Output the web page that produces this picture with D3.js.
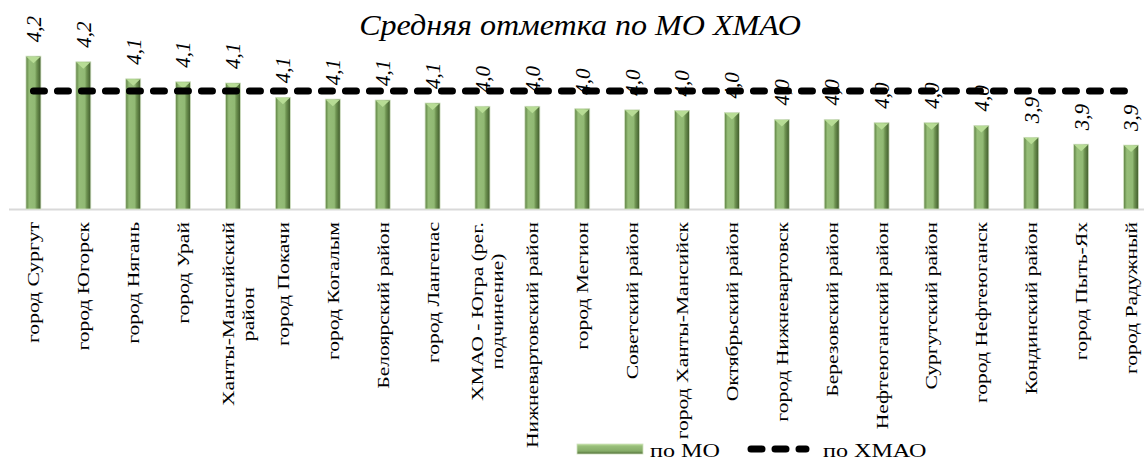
<!DOCTYPE html>
<html>
<head>
<meta charset="utf-8">
<script src="https://cdnjs.cloudflare.com/ajax/libs/d3/7.8.5/d3.min.js"></script>
<style>
  html, body { margin: 0; padding: 0; background: #ffffff; }
  svg { display: block; }
  .serif { font-family: 'Liberation Serif', 'Times New Roman', serif; }
</style>
</head>
<body>
<svg id="chart" width="1144" height="461"></svg>
<script>
const categories = [
  "город Сургут", "город Югорск", "город Нягань", "город Урай",
  "Ханты-Мансийский\nрайон", "город Покачи", "город Когалым", "Белоярский район",
  "город Лангепас", "ХМАО - Югра (рег.\nподчинение)", "Нижневартовский район",
  "город Мегион", "Советский район", "город Ханты-Мансийск", "Октябрьский район",
  "город Нижневартовск", "Березовский район", "Нефтеюганский район", "Сургутский район",
  "город Нефтеюганск", "Кондинский район", "город Пыть-Ях", "город Радужный"
];
const valuesMO = [
  4.212, 4.193, 4.136, 4.126, 4.122, 4.074, 4.068, 4.065, 4.055, 4.044, 4.044,
  4.036, 4.032, 4.030, 4.023, 4.000, 4.000, 3.989, 3.989, 3.980, 3.940, 3.917, 3.914
];
const valueHMAO = 4.095;
const titleText = "Средняя отметка по МО ХМАО";
const legendLabels = ["по МО", "по ХМАО"];

const svg = d3.select("#chart");
const baseY = 209;
const stretch = 1.27;

const x = d3.scaleBand().domain(categories).range([8.5, 1156]).paddingInner(0.7).paddingOuter(0.35);
const y = d3.scaleLinear().domain([3.7, 4.4]).range([baseY, 0]);
const fmt = v => d3.format(".1f")(v).replace(".", ",");

// gradients
const defs = svg.append("defs");
const g1 = defs.append("linearGradient").attr("id", "barGrad").attr("x1", "0").attr("x2", "1").attr("y1", "0").attr("y2", "0");
[["0%", "#5d7d42"], ["14%", "#7fa762"], ["22%", "#96bd78"], ["60%", "#91b974"], ["72%", "#6f9452"], ["100%", "#3f5a2b"]]
  .forEach(([o, c]) => g1.append("stop").attr("offset", o).attr("stop-color", c));
const g2 = defs.append("linearGradient").attr("id", "legGrad").attr("x1", "0").attr("x2", "0").attr("y1", "0").attr("y2", "1");
[["0%", "#b8da98"], ["25%", "#97bd79"], ["70%", "#86ad68"], ["100%", "#4f6c37"]]
  .forEach(([o, c]) => g2.append("stop").attr("offset", o).attr("stop-color", c));

// axis
const axis = svg.append("g").attr("transform", `translate(0,${baseY})`)
  .call(d3.axisBottom(x).tickSize(0).tickFormat(""));
axis.select(".domain").attr("stroke", "#d9d9d9").attr("stroke-width", 2);

// bars
const bars = svg.append("g").selectAll("g").data(categories).join("g");
bars.append("rect")
  .attr("x", d => x(d))
  .attr("y", (d, i) => y(valuesMO[i]))
  .attr("width", x.bandwidth())
  .attr("height", (d, i) => baseY - y(valuesMO[i]))
  .attr("fill", "url(#barGrad)")
  .attr("stroke", "#d3e3c4")
  .attr("stroke-width", 0.8);
bars.append("path")
  .attr("d", (d, i) => {
    const x0 = x(d), x1 = x(d) + x.bandwidth(), t = y(valuesMO[i]);
    const cx = x0 + x.bandwidth() / 2;
    return `M${x0 + 0.5},${t + 0.5}L${x1 - 0.5},${t + 0.5}L${cx},${t + 7}Z`;
  })
  .attr("fill", "#b7dc95");

// reference line
const line = d3.line().x(d => x(d) + x.bandwidth() / 2).y(() => y(valueHMAO));
svg.append("path")
  .datum(categories)
  .attr("d", line)
  .attr("fill", "none")
  .attr("stroke", "#000")
  .attr("stroke-width", 7)
  .attr("stroke-linecap", "round")
  .attr("stroke-dasharray", "11,13");

// data labels
svg.append("g").selectAll("text").data(categories).join("text")
  .attr("class", "serif")
  .attr("transform", (d, i) => `translate(${x(d) + x.bandwidth() / 2},${y(valuesMO[i]) - 14}) rotate(-90)`)
  .attr("dy", "0.35em")
  .attr("text-anchor", "start")
  .style("font-style", "italic")
  .style("font-size", "21px")
  .attr("fill", "#000")
  .text((d, i) => fmt(valuesMO[i]));

// category labels
const lineH = 20;
const labelTop = 222;
const catG = svg.append("g").selectAll("g").data(categories).join("g")
  .attr("transform", d => `translate(${x(d) + x.bandwidth() / 2},${labelTop}) rotate(-90) scale(${stretch},1)`);
catG.each(function(d) {
  const g = d3.select(this);
  const lines = d.split("\n");
  const texts = lines.map((ln, k) => g.append("text")
    .attr("class", "serif")
    .style("font-size", "17px")
    .attr("fill", "#000")
    .attr("y", (k - (lines.length - 1) / 2) * lineH + (lines.length > 1 ? 5 : 0))
    .attr("dy", "0.35em")
    .text(ln));
  const lens = texts.map(t => t.node().getComputedTextLength());
  const maxL = d3.max(lens);
  texts.forEach(t => t.attr("text-anchor", "middle").attr("x", -maxL / 2));
});

// title
svg.append("text")
  .attr("class", "serif")
  .attr("transform", "translate(580,35) scale(1.07,1)")
  .attr("text-anchor", "middle")
  .style("font-style", "italic")
  .style("font-size", "30px")
  .attr("fill", "#000")
  .text(titleText);

// legend
const leg = svg.append("g");
leg.append("rect").attr("x", 577).attr("y", 444).attr("width", 66).attr("height", 10)
  .attr("fill", "url(#legGrad)").attr("stroke", "#cfe0bf").attr("stroke-width", 0.8);
leg.append("text").attr("class", "serif").attr("transform", `translate(650,457) scale(${stretch},1)`)
  .style("font-size", "19px")
  .text(legendLabels[0]);
leg.append("line").attr("x1", 751).attr("x2", 806).attr("y1", 449).attr("y2", 449)
  .attr("stroke", "#000").attr("stroke-width", 7).attr("stroke-linecap", "round")
  .attr("stroke-dasharray", "11,13");
leg.append("text").attr("class", "serif").attr("transform", `translate(823,457) scale(${stretch},1)`)
  .style("font-size", "19px")
  .text(legendLabels[1]);
</script>
</body>
</html>
